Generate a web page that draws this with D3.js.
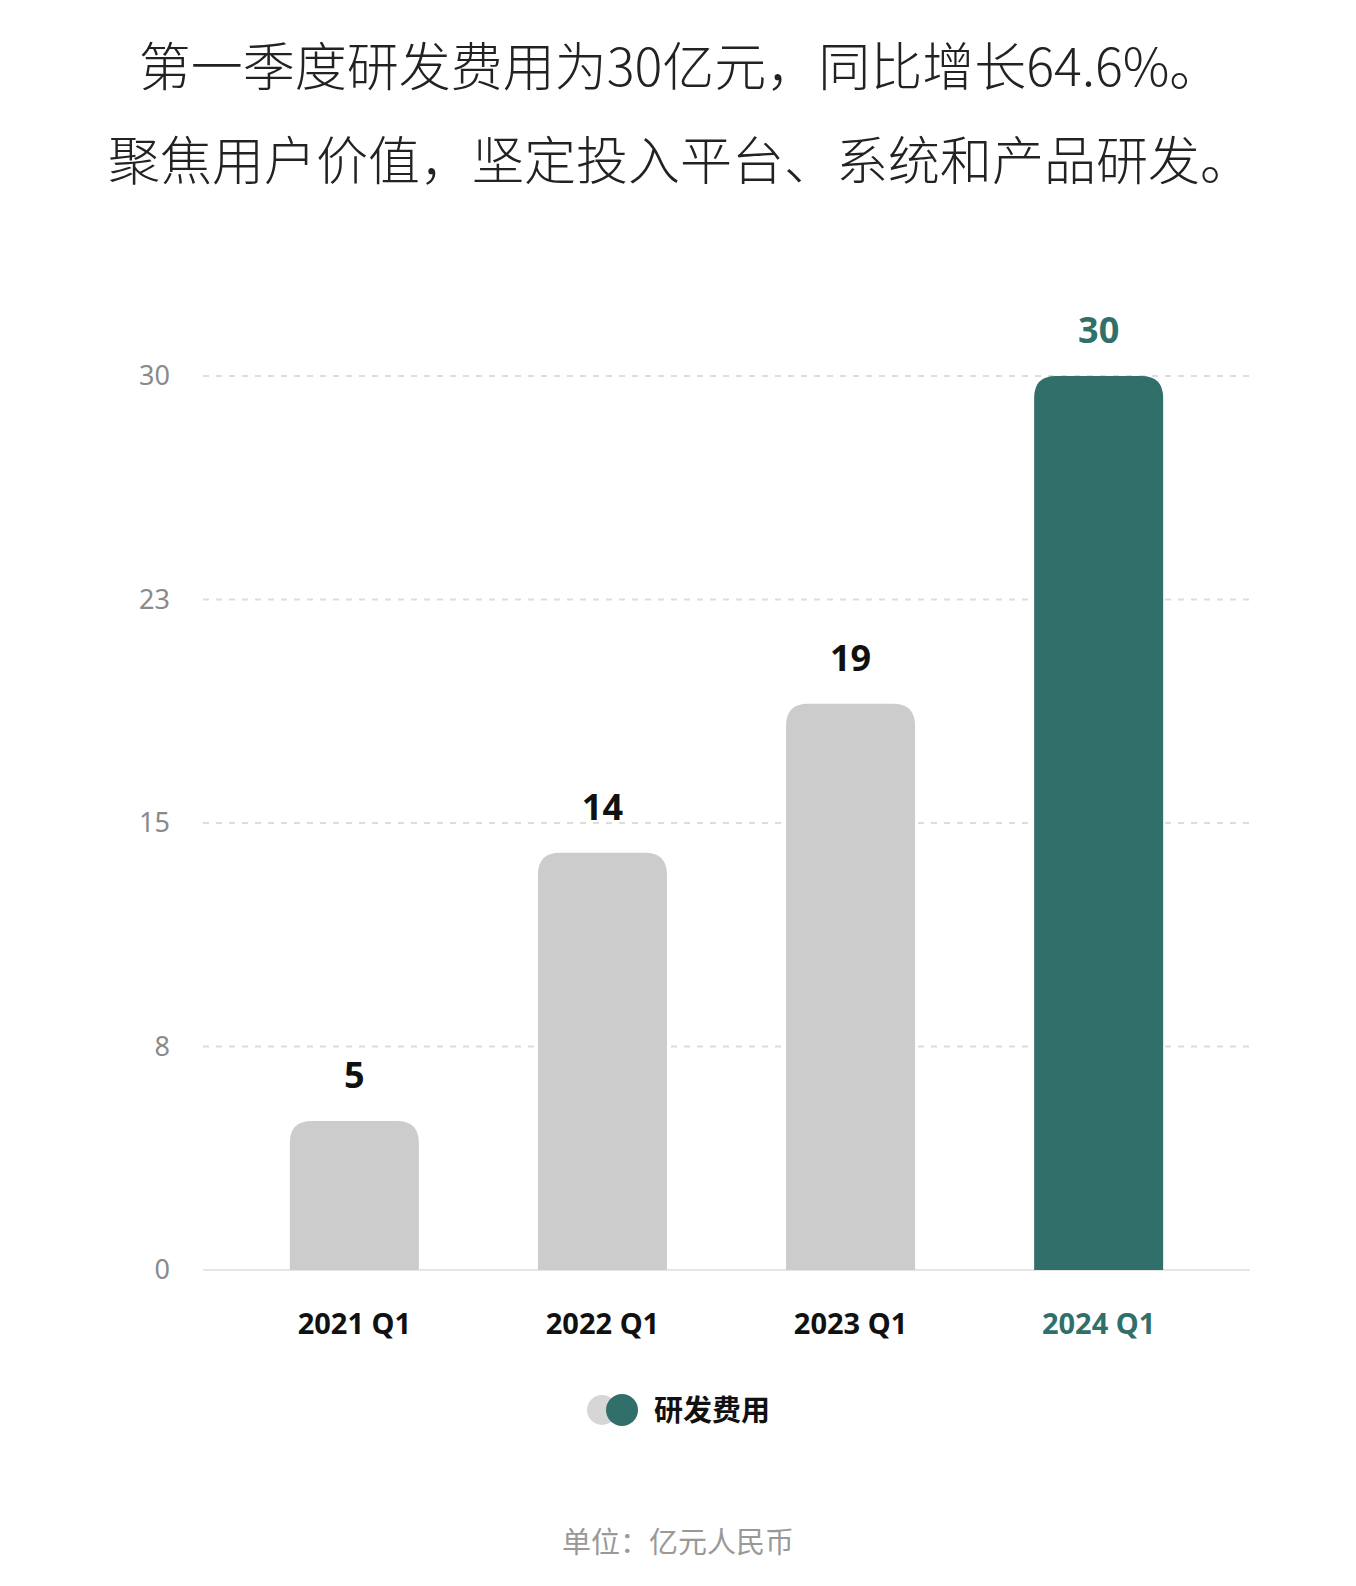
<!DOCTYPE html>
<html>
<head>
<meta charset="utf-8">
<script src="https://cdn.jsdelivr.net/npm/d3@7"></script>
<style>
  html, body { margin: 0; padding: 0; background: #fff; overflow: hidden; }
  svg { display: block; }
  text { font-family: "Noto Sans", "Noto Sans CJK SC", sans-serif; }
</style>
</head>
<body>
<div class="chart"></div>
<script>
// data
const quarters = ['2021 Q1', '2022 Q1', '2023 Q1', '2024 Q1'];
const rdCost = [5, 14, 19, 30];
const yTicks = [0, 7.5, 15, 22.5, 30];
const titleLines = ['第一季度研发费用为30亿元，同比增长64.6%。', '聚焦用户价值，坚定投入平台、系统和产品研发。'];

const width = 1356, height = 1586;
const teal = '#316f6b', grey = '#cccccc';

const svg = d3.select('.chart')
    .append('svg')
    .attr('width', width)
    .attr('height', height);

// Title
svg.selectAll('.title')
    .data(titleLines)
    .enter()
    .append('text')
    .attr('class', 'title')
    .attr('x', 680)
    .attr('y', (d, i) => 86 + i * 94)
    .attr('text-anchor', 'middle')
    .style('font-family', '"Noto Sans CJK SC", sans-serif')
    .style('font-size', '52px')
    .style('font-weight', 300)
    .style('fill', '#222')
    .text(d => d);

// Scales
const xScale = d3.scaleBand()
    .domain(quarters)
    .range([203, 1250])
    .paddingInner(0.48)
    .paddingOuter(0.35);

const yScale = d3.scaleLinear()
    .domain([0, 30])
    .range([1270, 376]);

// Grid
const yAxis = d3.axisLeft(yScale)
    .tickValues(yTicks)
    .tickFormat(d => Math.round(d))
    .tickSize(0)
    .tickPadding(33);

const yAxisDraw = svg.append('g')
    .attr('class', 'y axis')
    .attr('transform', 'translate(203,0)')
    .call(yAxis);
yAxisDraw.select('.domain').remove();
yAxisDraw.selectAll('text')
    .style('font-size', '27px')
    .style('fill', '#8a8a8a');

svg.append('g')
    .selectAll('line')
    .data(yTicks.filter(d => d > 0))
    .enter()
    .append('line')
    .attr('x1', 203)
    .attr('x2', 1250)
    .attr('y1', d => yScale(d))
    .attr('y2', d => yScale(d))
    .style('stroke', '#dddddd')
    .style('stroke-width', 2)
    .style('stroke-dasharray', '6,7');

svg.append('line')
    .attr('x1', 203)
    .attr('x2', 1250)
    .attr('y1', yScale(0))
    .attr('y2', yScale(0))
    .style('stroke', '#e6e6e6')
    .style('stroke-width', 2);

// Bars with rounded tops
const r = 22;
const barPath = (x, y, w, h) => {
    const rr = Math.min(r, h, w / 2);
    return `M${x},${y + h} V${y + rr} Q${x},${y} ${x + rr},${y} H${x + w - rr} Q${x + w},${y} ${x + w},${y + rr} V${y + h} Z`;
};

const bars = quarters.map((q, i) => ({ q, v: rdCost[i], last: i === quarters.length - 1 }));

svg.selectAll('.bar')
    .data(bars)
    .enter()
    .append('path')
    .attr('class', 'bar')
    .attr('d', d => barPath(xScale(d.q), yScale(d.v), xScale.bandwidth(), yScale(0) - yScale(d.v)))
    .style('fill', d => d.last ? teal : grey);

svg.selectAll('.val')
    .data(bars)
    .enter()
    .append('text')
    .attr('class', 'val')
    .attr('x', d => xScale(d.q) + xScale.bandwidth() / 2)
    .attr('y', d => yScale(d.v) - 33)
    .attr('text-anchor', 'middle')
    .style('font-size', '36px')
    .style('font-weight', 'bold')
    .style('fill', d => d.last ? teal : '#111')
    .text(d => d.v);

// X labels
svg.selectAll('.xlab')
    .data(bars)
    .enter()
    .append('text')
    .attr('class', 'xlab')
    .attr('x', d => xScale(d.q) + xScale.bandwidth() / 2)
    .attr('y', 1334)
    .attr('text-anchor', 'middle')
    .style('font-size', '29px')
    .style('font-weight', 'bold')
    .style('fill', d => d.last ? teal : '#111')
    .text(d => d.q);

// Legend
const legend = svg.append('g').attr('transform', 'translate(0,1410)');
legend.append('circle').attr('cx', 602).attr('cy', 0).attr('r', 15).style('fill', '#d6d6d6');
legend.append('circle').attr('cx', 622).attr('cy', 0).attr('r', 16).style('fill', teal);
legend.append('text')
    .attr('x', 654)
    .attr('y', 11)
    .style('font-family', '"Noto Sans CJK SC", sans-serif')
    .style('font-size', '29px')
    .style('font-weight', 'bold')
    .style('fill', '#111')
    .text('研发费用');

// Unit
svg.append('text')
    .attr('x', 678)
    .attr('y', 1553)
    .attr('text-anchor', 'middle')
    .style('font-family', '"Noto Sans CJK SC", sans-serif')
    .style('font-size', '29px')
    .style('fill', '#999')
    .text('单位：亿元人民币');
</script>
</body>
</html>
